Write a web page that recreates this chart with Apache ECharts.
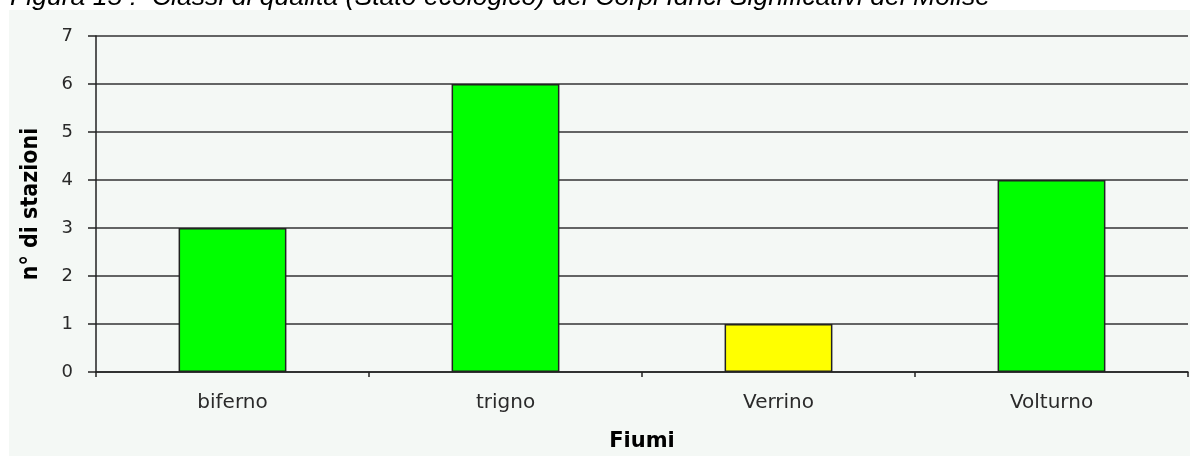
<!DOCTYPE html>
<html><head><meta charset="utf-8">
<script src="https://cdn.jsdelivr.net/npm/echarts@6/dist/echarts.min.js"></script>
<style>html,body{margin:0;padding:0;background:#fff;}#c{width:1190px;height:456px;}</style>
</head><body><div id="c"></div>
<script>
const titleText = "Figura 15 :  Classi di qualità (Stato ecologico) dei Corpi Idrici Significativi del Molise";
const categories = ["biferno", "trigno", "Verrino", "Volturno"];
const values = [3, 6, 1, 4];
const barColors = ["#00ff00", "#00ff00", "#ffff00", "#00ff00"];
const yTicks = [0, 1, 2, 3, 4, 5, 6, 7];
const xName = "Fiumi";
const yName = "n° di stazioni";

const chart = echarts.init(document.getElementById('c'));
chart.setOption({
  animation: false,
  backgroundColor: '#ffffff',
  graphic: [
    { type: 'rect', left: 9, top: 10, shape: { width: 1181, height: 446 }, style: { fill: '#f4f8f5' }, z: -10 },
    { type: 'text', left: 10, top: -16, style: { text: titleText, font: 'italic 26.6px "Liberation Sans", Arial, sans-serif', fill: '#000' }, z: 10 }
  ],
  grid: { left: 96, right: 2, top: 36, bottom: 84, containLabel: false, outerBoundsMode: 'none' },
  xAxis: {
    type: 'category',
    data: categories,
    name: xName,
    nameLocation: 'middle',
    nameGap: 59,
    nameTextStyle: { fontFamily: 'DejaVu Sans', fontWeight: 'bold', fontSize: 21, color: '#000' },
    axisLine: { lineStyle: { color: '#222', width: 1.5 } },
    axisTick: { show: true, length: 5, lineStyle: { color: '#222', width: 1.5 } },
    axisLabel: { fontFamily: 'DejaVu Sans', fontSize: 20, color: '#2a2a2a', margin: 21 }
  },
  yAxis: {
    type: 'value',
    min: 0, max: 7, interval: 1,
    name: yName,
    nameLocation: 'middle',
    nameGap: 53,
    nameTextStyle: { fontFamily: '"DejaVu Sans Condensed", "DejaVu Sans", sans-serif', fontWeight: 'bold', fontSize: 23, color: '#000' },
    axisLine: { show: true, lineStyle: { color: '#222', width: 1.5 } },
    axisTick: { show: true, length: 8, lineStyle: { color: '#222', width: 1.5 } },
    axisLabel: { fontFamily: 'DejaVu Sans', fontSize: 18, color: '#2a2a2a', margin: 23,
      formatter: v => yTicks.includes(v) ? String(v) : '' },
    splitLine: { show: true, lineStyle: { color: '#333', width: 1.5 } }
  },
  series: [{
    type: 'bar',
    data: values.map((v, i) => ({ value: v, itemStyle: { color: barColors[i] } })),
    barWidth: '39.5%',
    itemStyle: { borderColor: '#222', borderWidth: 1.5 }
  }]
});
</script></body></html>
